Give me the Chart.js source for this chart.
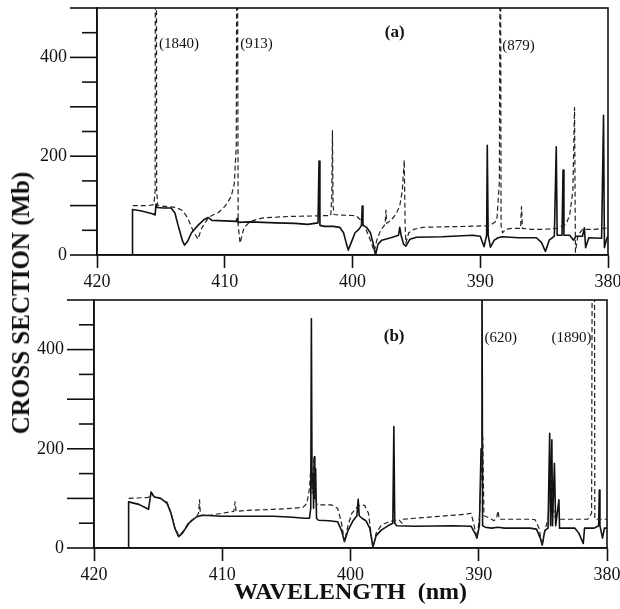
<!DOCTYPE html>
<html>
<head>
<meta charset="utf-8">
<script src="https://cdn.jsdelivr.net/npm/chart.js@4.4.1/dist/chart.umd.min.js"></script>
<style>
body{margin:0;background:#fff;}
#wrap{position:relative;width:620px;height:609px;overflow:hidden;}
#chartA{position:absolute;left:0;top:0;}
#chartB{position:absolute;left:0;top:290px;}
#ytitle{position:absolute;left:21px;top:303px;transform:translate(-50%,-50%) rotate(-90deg);
  font:bold 25px "Liberation Serif";white-space:nowrap;color:#111;}
</style>
</head>
<body>
<div id="wrap">
  <canvas id="chartA" width="620" height="290"></canvas>
  <canvas id="chartB" width="620" height="319"></canvas>
  <div id="ytitle">CROSS SECTION (Mb)</div>
</div>
<script>
'use strict';
// wavelength (nm) / cross section (Mb)
let aSolidNm = [420,417.25,417.22,416.5,415.6,415.45,415.38,415.3,414.8,414.2,413.9,413.6,413.3,413.15,412.9,412.6,412.1,411.6,411.3,411.0,410.0,409.1,409.03,408.97,408.0,406.0,404.5,403.5,402.7,402.62,402.55,402.2,401.5,401.0,400.7,400.5,400.33,400.1,399.8,399.5,399.3,399.24,399.18,398.9,398.6,398.35,398.2,398.0,397.7,397.0,396.4,396.3,396.2,396.0,395.82,395.5,395.0,393.0,390.6,390.0,389.7,389.5,389.45,389.38,389.2,388.9,388.6,388.3,387.0,385.6,385.2,384.9,384.6,384.2,384.05,383.98,383.6,383.52,383.45,383.0,382.7,382.5,382.0,381.85,381.75,381.5,380.5,380.35,380.28,380.1,380.0];
let aSolidMb = [0,0,92,89,83,81,103,96,95,95,85,55,28,20,28,45,60,72,76,70,69,68,74,66,67,65,64,62,65,190,60,58,58,56,45,25,10,25,45,52,60,99,60,56,45,20,0,22,30,35,40,56,40,22,18,32,36,37,40,38,17,40,222,40,16,30,35,37,35,35,25,7,30,38,219,40,40,172,40,40,30,38,38,55,15,35,34,283,15,33,38];
let aDashNm = [417.2,416.0,415.55,415.45,415.39,415.33,415.25,414.5,413.8,413.3,412.9,412.5,412.1,411.8,411.6,411.3,411.0,410.5,410.0,409.5,409.25,409.1,409.03,408.95,408.8,408.5,408.0,407.5,407.0,405.0,403.0,401.7,401.62,401.57,401.52,401.45,401.0,400.0,399.7,399.4,399.0,398.6,398.3,398.1,397.8,397.45,397.38,397.33,397.0,396.6,396.3,396.1,395.95,395.88,395.82,395.6,395.2,394.5,393.0,391.0,389.6,389.2,388.7,388.5,388.43,388.37,388.25,388.0,387.5,386.85,386.77,386.7,386.0,385.0,384.0,383.3,383.0,382.75,382.62,382.55,382.35,382.0,381.0,380.0];
let aDashMb = [100,100,102,130,1840,130,100,98,96,90,75,50,32,55,62,75,80,86,98,118,144,220,913,60,24,55,68,72,75,78,79,80,120,252,100,82,81,80,79,72,55,30,7,30,50,62,91,64,70,82,100,130,192,60,24,45,52,56,57,58,59,60,70,150,879,60,45,52,54,54,98,54,52,52,54,62,80,130,299,6,40,52,52,55];

let bSolidNm = [420,417.33,417.3,416.5,415.75,415.55,415.3,414.8,414.3,414.0,413.7,413.4,413.1,412.6,412.0,411.5,410.0,408.0,406.0,404.5,403.6,403.2,403.1,403.05,403.0,402.92,402.88,402.82,402.78,402.72,402.65,402.5,401.7,401.0,400.7,400.47,400.2,399.8,399.5,399.4,399.32,399.1,398.8,398.5,398.25,398.0,397.6,397.0,396.7,396.62,396.55,396.4,395.0,392.0,390.6,390.3,390.14,389.95,389.82,389.75,389.7,389.5,389.0,388.5,388.0,386.0,385.5,385.2,385.05,384.85,384.6,384.47,384.4,384.3,384.25,384.1,384.0,383.75,383.7,383.0,382.5,382.2,381.85,381.75,381.0,380.65,380.6,380.55,380.35,380.2,380.0];
let bSolidMb = [0,0,93,88,78,113,103,100,90,70,40,23,30,50,63,66,64,64,64,62,60,60,80,462,120,150,80,184,100,160,60,56,55,53,35,13,35,55,65,98,65,60,55,40,2,25,36,46,50,245,50,45,44,45,44,30,20,45,200,620,45,42,40,42,40,40,38,20,6,35,40,231,45,218,45,171,45,97,40,40,40,30,9,40,40,45,117,45,20,40,40];
let bDashNm = [417.3,415.8,415.6,415.5,415.3,414.8,414.3,414.0,413.7,413.4,413.1,412.6,412.0,411.85,411.77,411.7,411.0,410.0,409.1,409.0,408.92,408.0,406.0,404.5,403.7,403.4,403.2,403.1,403.0,402.85,402.75,402.6,402.0,401.5,401.0,400.7,400.47,400.2,399.9,399.5,399.2,398.9,398.6,398.4,398.25,398.0,397.6,397.0,396.7,396.5,396.2,396.0,395.9,395.0,393.0,391.0,390.6,390.4,390.14,389.95,389.68,389.6,389.3,388.8,388.6,388.5,388.4,386.0,385.6,385.3,385.05,384.8,384.6,384.5,384.35,384.2,384.0,382.0,381.5,381.2,381.05,380.95,380.0];
let bDashMb = [100,102,104,108,103,100,92,72,42,25,32,52,63,70,97,66,66,70,74,93,74,76,78,80,82,90,120,160,110,182,100,87,87,87,80,50,13,45,70,82,87,86,70,30,1,30,46,53,55,56,56,50,58,60,64,68,70,50,20,60,222,65,62,55,62,75,58,58,57,40,6,40,58,100,150,80,58,58,58,70,1890,58,58];

let yLabelValues = [0, 200, 400];
let notesA = [
    {text:'(1840)', nm:415.15, mb:426, align:'left'},
    {text:'(913)', nm:408.78, mb:426, align:'left'},
    {text:'(879)', nm:388.28, mb:422, align:'left'},
    {text:'(a)', nm:396.7, mb:450, align:'center', bold:true},
];
let notesB = [
    {text:'(b)', nm:396.6, mb:427, align:'center', bold:true},
    {text:'(620)', nm:389.55, mb:424, align:'left'},
    {text:'(1890)', nm:381.2, mb:424, align:'right'},
];

const serif = '"Liberation Serif", "Times New Roman", serif';

// frame, y ticks (long every 100, short every 50) and in-plot labels
const frameTicks = {
    id: 'frameTicks',
    afterDraw(chart, args, opts){
        let ctx = chart.ctx;
        let a = chart.chartArea;
        let y = chart.scales.y;
        let x = chart.scales.x;
        ctx.save();
        ctx.strokeStyle = '#111';
        ctx.lineWidth = 1.6;
        ctx.strokeRect(a.left, a.top, a.right - a.left, a.bottom - a.top);
        y.ticks.forEach(t => {
            let py = y.getPixelForValue(t.value);
            let len = t.value % 100 === 0 ? 27 : 15;
            ctx.beginPath();
            ctx.moveTo(a.left - len, py);
            ctx.lineTo(a.left, py);
            ctx.stroke();
        });
        ctx.fillStyle = '#111';
        ctx.textBaseline = 'middle';
        (opts.notes || []).forEach(n => {
            ctx.font = (n.bold ? 'bold 17px ' : '15px ') + serif;
            ctx.textAlign = n.align;
            ctx.fillText(n.text, x.getPixelForValue(n.nm), y.getPixelForValue(n.mb));
        });
        ctx.restore();
    }
};

function Pts(xs, ys){
    return xs.map((v, i) => ({x: v, y: ys[i]}));
}

function MakeChart(id, solidX, solidY, dashX, dashY, notes, box){
    let ctx = document.getElementById(id).getContext('2d');
    return new Chart(ctx, {
        type: 'scatter',
        data: {
            datasets: [{
                data: Pts(dashX, dashY),
                showLine: true,
                borderColor: '#222',
                borderWidth: 1.2,
                borderDash: [5, 3],
                borderJoinStyle: 'round',
                pointRadius: 0,
            }, {
                data: Pts(solidX, solidY),
                showLine: true,
                borderColor: '#111',
                borderWidth: 1.6,
                borderJoinStyle: 'round',
                pointRadius: 0,
            }]
        },
        options: {
            responsive: false,
            animation: false,
            layout: {padding: {top: box.top, right: box.right, left: 0, bottom: 0}},
            plugins: {
                legend: {display: false},
                tooltip: {enabled: false},
                frameTicks: {notes: notes},
            },
            scales: {
                x: {
                    type: 'linear',
                    min: 380, max: 420,
                    reverse: true,
                    afterFit: s => { s.height = box.xHeight; s.paddingLeft = 0; s.paddingRight = 0; },
                    ticks: {stepSize: 10, color: '#111', padding: 3, font: {family: serif, size: 18}},
                    grid: {drawOnChartArea: false, tickLength: 13, tickColor: '#111', tickWidth: 1.6},
                    border: {color: '#111', width: 1.6},
                    title: {
                        display: box.title,
                        text: 'WAVELENGTH  (nm)',
                        color: '#111',
                        padding: {top: 0, bottom: 2},
                        font: {family: serif, size: 24, weight: 'bold'},
                    },
                },
                y: {
                    min: 0, max: 500,
                    afterFit: s => { s.width = box.left; s.paddingTop = 0; s.paddingBottom = 0; },
                    ticks: {
                        stepSize: 50,
                        color: '#111',
                        padding: 3,
                        font: {family: serif, size: 18},
                        callback: v => yLabelValues.includes(v) ? v : '',
                    },
                    grid: {drawOnChartArea: false, tickLength: 27, tickColor: 'rgba(0,0,0,0)'},
                    border: {color: '#111', width: 1.6},
                },
            },
        },
        plugins: [frameTicks],
    });
}

MakeChart('chartA', aSolidNm, aSolidMb, aDashNm, aDashMb, notesA,
    {top: 8, right: 12, left: 97, xHeight: 35, title: false});
MakeChart('chartB', bSolidNm, bSolidMb, bDashNm, bDashMb, notesB,
    {top: 10, right: 13, left: 94, xHeight: 61, title: true});
</script>
</body>
</html>
